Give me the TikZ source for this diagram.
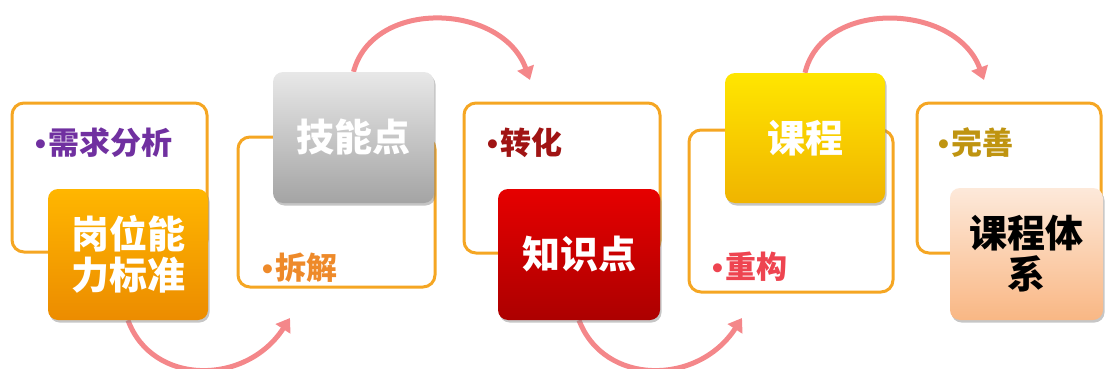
\documentclass[tikz,border=0pt]{standalone}
\usepackage{fontspec}
\newfontfamily\cjk{Noto Sans CJK SC}
\newfontfamily\dotfont{Liberation Sans}
\usetikzlibrary{arrows.meta,shadows,backgrounds}
\definecolor{arcpink}{HTML}{F4878A}
\definecolor{frameorange}{HTML}{F5A623}
\definecolor{tagpurple}{HTML}{7030A0}
\definecolor{tagorange}{HTML}{EE8A2A}
\definecolor{tagred}{HTML}{A01414}
\definecolor{tagcoral}{HTML}{EE4450}
\definecolor{taggold}{HTML}{BF9410}
\newcommand{\tagdot}{{\dotfont\bfseries •}\kern2pt}

\begin{document}
\begin{tikzpicture}[x=1pt,y=-1pt,
  framebox/.style={draw=frameorange, line width=3pt, rounded corners=12pt, fill=white, inner sep=0pt},
  block/.style={rounded corners=10pt, inner sep=0pt, align=center,
    drop shadow={shadow xshift=1.5pt, shadow yshift=-2.5pt, opacity=.45},
    font=\cjk\bfseries\fontsize{38}{41}\selectfont},
  tag/.style={anchor=west, inner sep=0pt, font=\cjk\bfseries\fontsize{31}{32}\selectfont},
  flow/.style={draw=arcpink, line width=5pt, -{Triangle[length=13pt,width=17pt]}}]
\useasboundingbox (0,0) rectangle (1105,369);
% outline frames
\foreach \n/\cx/\cy/\w/\h in {1/109.5/177.5/195/149, 2/336.5/212/197/150, 3/562/178/196/150,
                              4/791/211/204/162, 5/1009/178/184/150}
  \node[framebox, minimum width=\w pt, minimum height=\h pt] (f\n) at (\cx,\cy) {};
% tags
\node[tag, text=tagpurple] (t1) at (35,143) {\tagdot 需求分析};
\node[tag, text=tagorange] (t2) at (262,268) {\tagdot 拆解};
\node[tag, text=tagred]    (t3) at (487,143) {\tagdot 转化};
\node[tag, text=tagcoral]  (t4) at (712,267) {\tagdot 重构};
\node[tag, text=taggold]   (t5) at (938,143) {\tagdot 完善};
% filled blocks
\node[block, top color={rgb,255:red,255;green,182;blue,0}, bottom color={rgb,255:red,236;green,140;blue,0},
  text=white, minimum width=160pt, minimum height=131pt] (b1) at (128,254.5) {岗位能\\力标准};
\node[block, top color={rgb,255:red,232;green,232;blue,232}, bottom color={rgb,255:red,164;green,164;blue,164},
  text=white, minimum width=161pt, minimum height=131pt] (b2) at (353.5,137.5) {技能点};
\node[block, top color={rgb,255:red,230;green,0;blue,0}, bottom color={rgb,255:red,172;green,0;blue,0},
  text=white, minimum width=162pt, minimum height=131pt] (b3) at (579,254.5) {知识点};
\node[block, top color={rgb,255:red,255;green,230;blue,0}, bottom color={rgb,255:red,240;green,180;blue,0},
  text=white, minimum width=160pt, minimum height=130pt] (b4) at (805,138) {课程};
\node[block, top color={rgb,255:red,253;green,233;blue,218}, bottom color={rgb,255:red,249;green,183;blue,132},
  text=black, minimum width=153pt, minimum height=132pt] (b5) at (1026.5,254) {课程体\\系};
% arrow tips
\coordinate (e1) at (290,318);
\coordinate (e2) at (530,80);
\coordinate (e3) at (742,318);
\coordinate (e4) at (984,80);
\begin{scope}[on background layer]
\draw[flow] (b1.south) .. controls (152,386) and (246,386) .. (e1);
\draw[flow] (b2.north) .. controls (373,-2) and (502,3) .. (e2);
\draw[flow] (b3.south) .. controls (604,386) and (698,386) .. (e3);
\draw[flow] (b4.north) .. controls (823,-2) and (956,3) .. (e4);
\end{scope}
\end{tikzpicture}
\end{document}
